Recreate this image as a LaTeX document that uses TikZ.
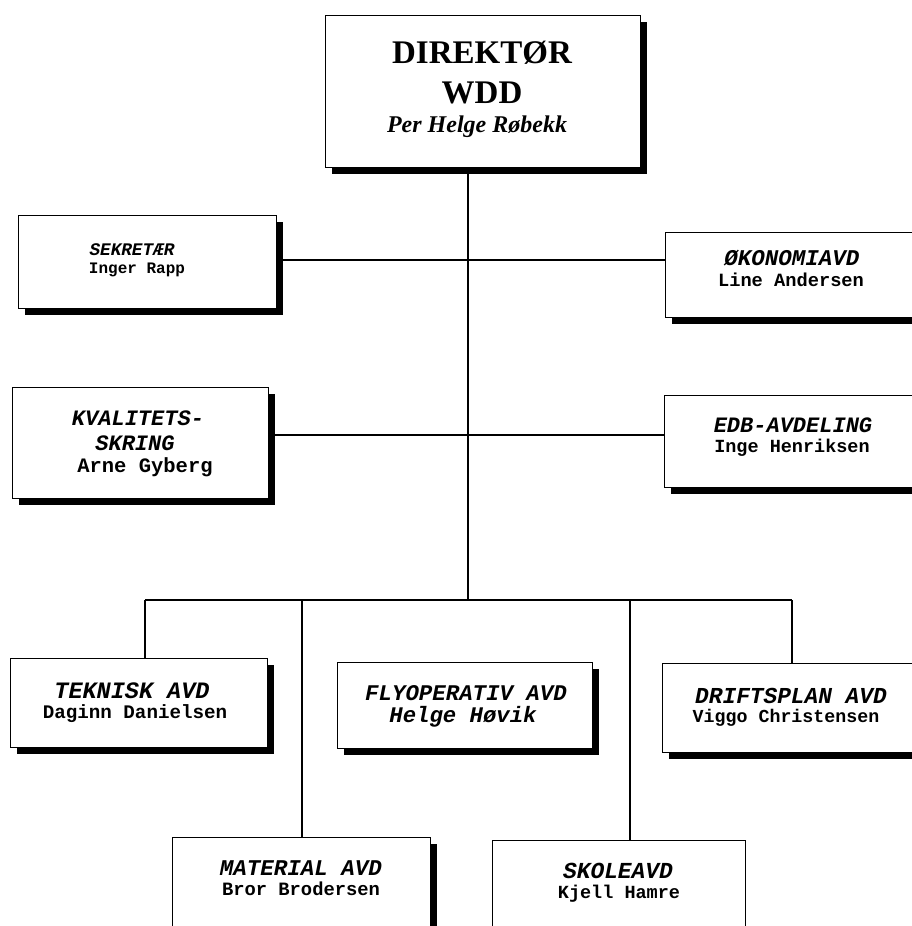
\documentclass[tikz,border=0pt]{standalone}
\usepackage{fontspec}
\setmainfont{Liberation Serif}
\newfontfamily\monof{Liberation Mono}
\usetikzlibrary{shadows}

% font helpers: headings in bold italic mono, names in bold mono
\newcommand{\ttl}[1]{\fontsize{#1}{#1}\selectfont\monof\bfseries\itshape}
\newcommand{\nam}[1]{\fontsize{#1}{#1}\selectfont\monof\bfseries}

\tikzset{
  orgbox/.style={draw, line width=1.3pt, fill=white, inner sep=0pt,
    anchor=north west,
    drop shadow={shadow xshift=6pt, shadow yshift=-6pt, fill=black, opacity=1}},
  plainbox/.style={draw, line width=1.3pt, fill=white, inner sep=0pt,
    anchor=north west},
  txt/.style={anchor=base, inner sep=0pt},
  link/.style={line width=1.2pt}
}

\begin{document}
\begin{tikzpicture}[x=1pt, y=-1pt]
\clip (0,0) rectangle (912,926);
\fill[white] (0,0) rectangle (912,926);

% boxes
\node[orgbox, minimum width=315pt, minimum height=152pt] (dir) at (325,15) {};
\node[orgbox, minimum width=258pt, minimum height=93pt]  (sek) at (18,215) {};
\node[orgbox, minimum width=265pt, minimum height=85pt]  (oko) at (665,232) {};
\node[orgbox, minimum width=256pt, minimum height=111pt] (kva) at (12,387) {};
\node[orgbox, minimum width=266pt, minimum height=92pt]  (edb) at (664,395) {};
\node[orgbox, minimum width=257pt, minimum height=89pt]  (tek) at (10,658) {};
\node[orgbox, minimum width=255pt, minimum height=86pt]  (fly) at (337,662) {};
\node[orgbox, minimum width=268pt, minimum height=89pt]  (dri) at (662,663) {};
\node[orgbox, minimum width=258pt, minimum height=110pt] (mat) at (172,837) {};
\node[plainbox, minimum width=253pt, minimum height=110pt] (sko) at (492,840) {};

% texts
\node[txt] (dirA) at (482,63) {\fontsize{33}{33}\selectfont\bfseries DIREKTØR};
\node[txt] (dirB) at (482,103) {\fontsize{33}{33}\selectfont\bfseries WDD};
\node[txt] (dirC) at (477,132) {\fontsize{24}{24}\selectfont\bfseries\itshape Per Helge Røbekk};

\node[txt] (sekA) at (132,255) {\ttl{17.7}SEKRETÆR};
\node[txt] (sekB) at (137,273) {\nam{16}Inger Rapp};

\node[txt] (okoA) at (792,265) {\ttl{22.5}ØKONOMIAVD};
\node[txt] (okoB) at (791,286) {\nam{18.7}Line Andersen};

\node[txt] (kvaA) at (138,425) {\ttl{22}KVALITETS-};
\node[txt] (kvaB) at (135,450) {\ttl{22}SKRING};
\node[txt] (kvaC) at (145,472) {\nam{20.5}Arne Gyberg};

\node[txt] (edbA) at (793,432) {\ttl{22}EDB-AVDELING};
\node[txt] (edbB) at (792,452) {\nam{18.5}Inge Henriksen};

\node[txt] (tekA) at (132,698) {\ttl{23.5}TEKNISK AVD};
\node[txt] (tekB) at (135,718) {\nam{19.2}Daginn Danielsen};

\node[txt] (flyA) at (466,700) {\ttl{22.4}FLYOPERATIV AVD};
\node[txt] (flyB) at (463,722) {\ttl{22.3}Helge Høvik};

\node[txt] (driA) at (791,703) {\ttl{22.8}DRIFTSPLAN AVD};
\node[txt] (driB) at (786,722) {\nam{18.3}Viggo Christensen};

\node[txt] (matA) at (301,875) {\ttl{22.5}MATERIAL AVD};
\node[txt] (matB) at (301,895) {\nam{18.8}Bror Brodersen};

\node[txt] (skoA) at (618,878) {\ttl{22.9}SKOLEAVD};
\node[txt] (skoB) at (619,898) {\nam{18.5}Kjell Hamre};

% connector junctions
\coordinate (trunk) at (468,600);
\coordinate (busL) at (145,600);
\coordinate (busR) at (792,600);
\coordinate (busM) at (302,600);
\coordinate (busN) at (630,600);
\coordinate (rowA) at (0,260);
\coordinate (rowB) at (0,435);

% connectors
\draw[link] (dir.south -| trunk) -- (trunk);
\draw[link] (busL) -- (busR);
\draw[link] (busL) -- (tek.north -| busL);
\draw[link] (busM) -- (mat.north -| busM);
\draw[link] (busN) -- (sko.north -| busN);
\draw[link] (busR) -- (dri.north -| busR);
\draw[link] (sek.east |- rowA) -- (oko.west |- rowA);
\draw[link] (kva.east |- rowB) -- (edb.west |- rowB);
\end{tikzpicture}
\end{document}
